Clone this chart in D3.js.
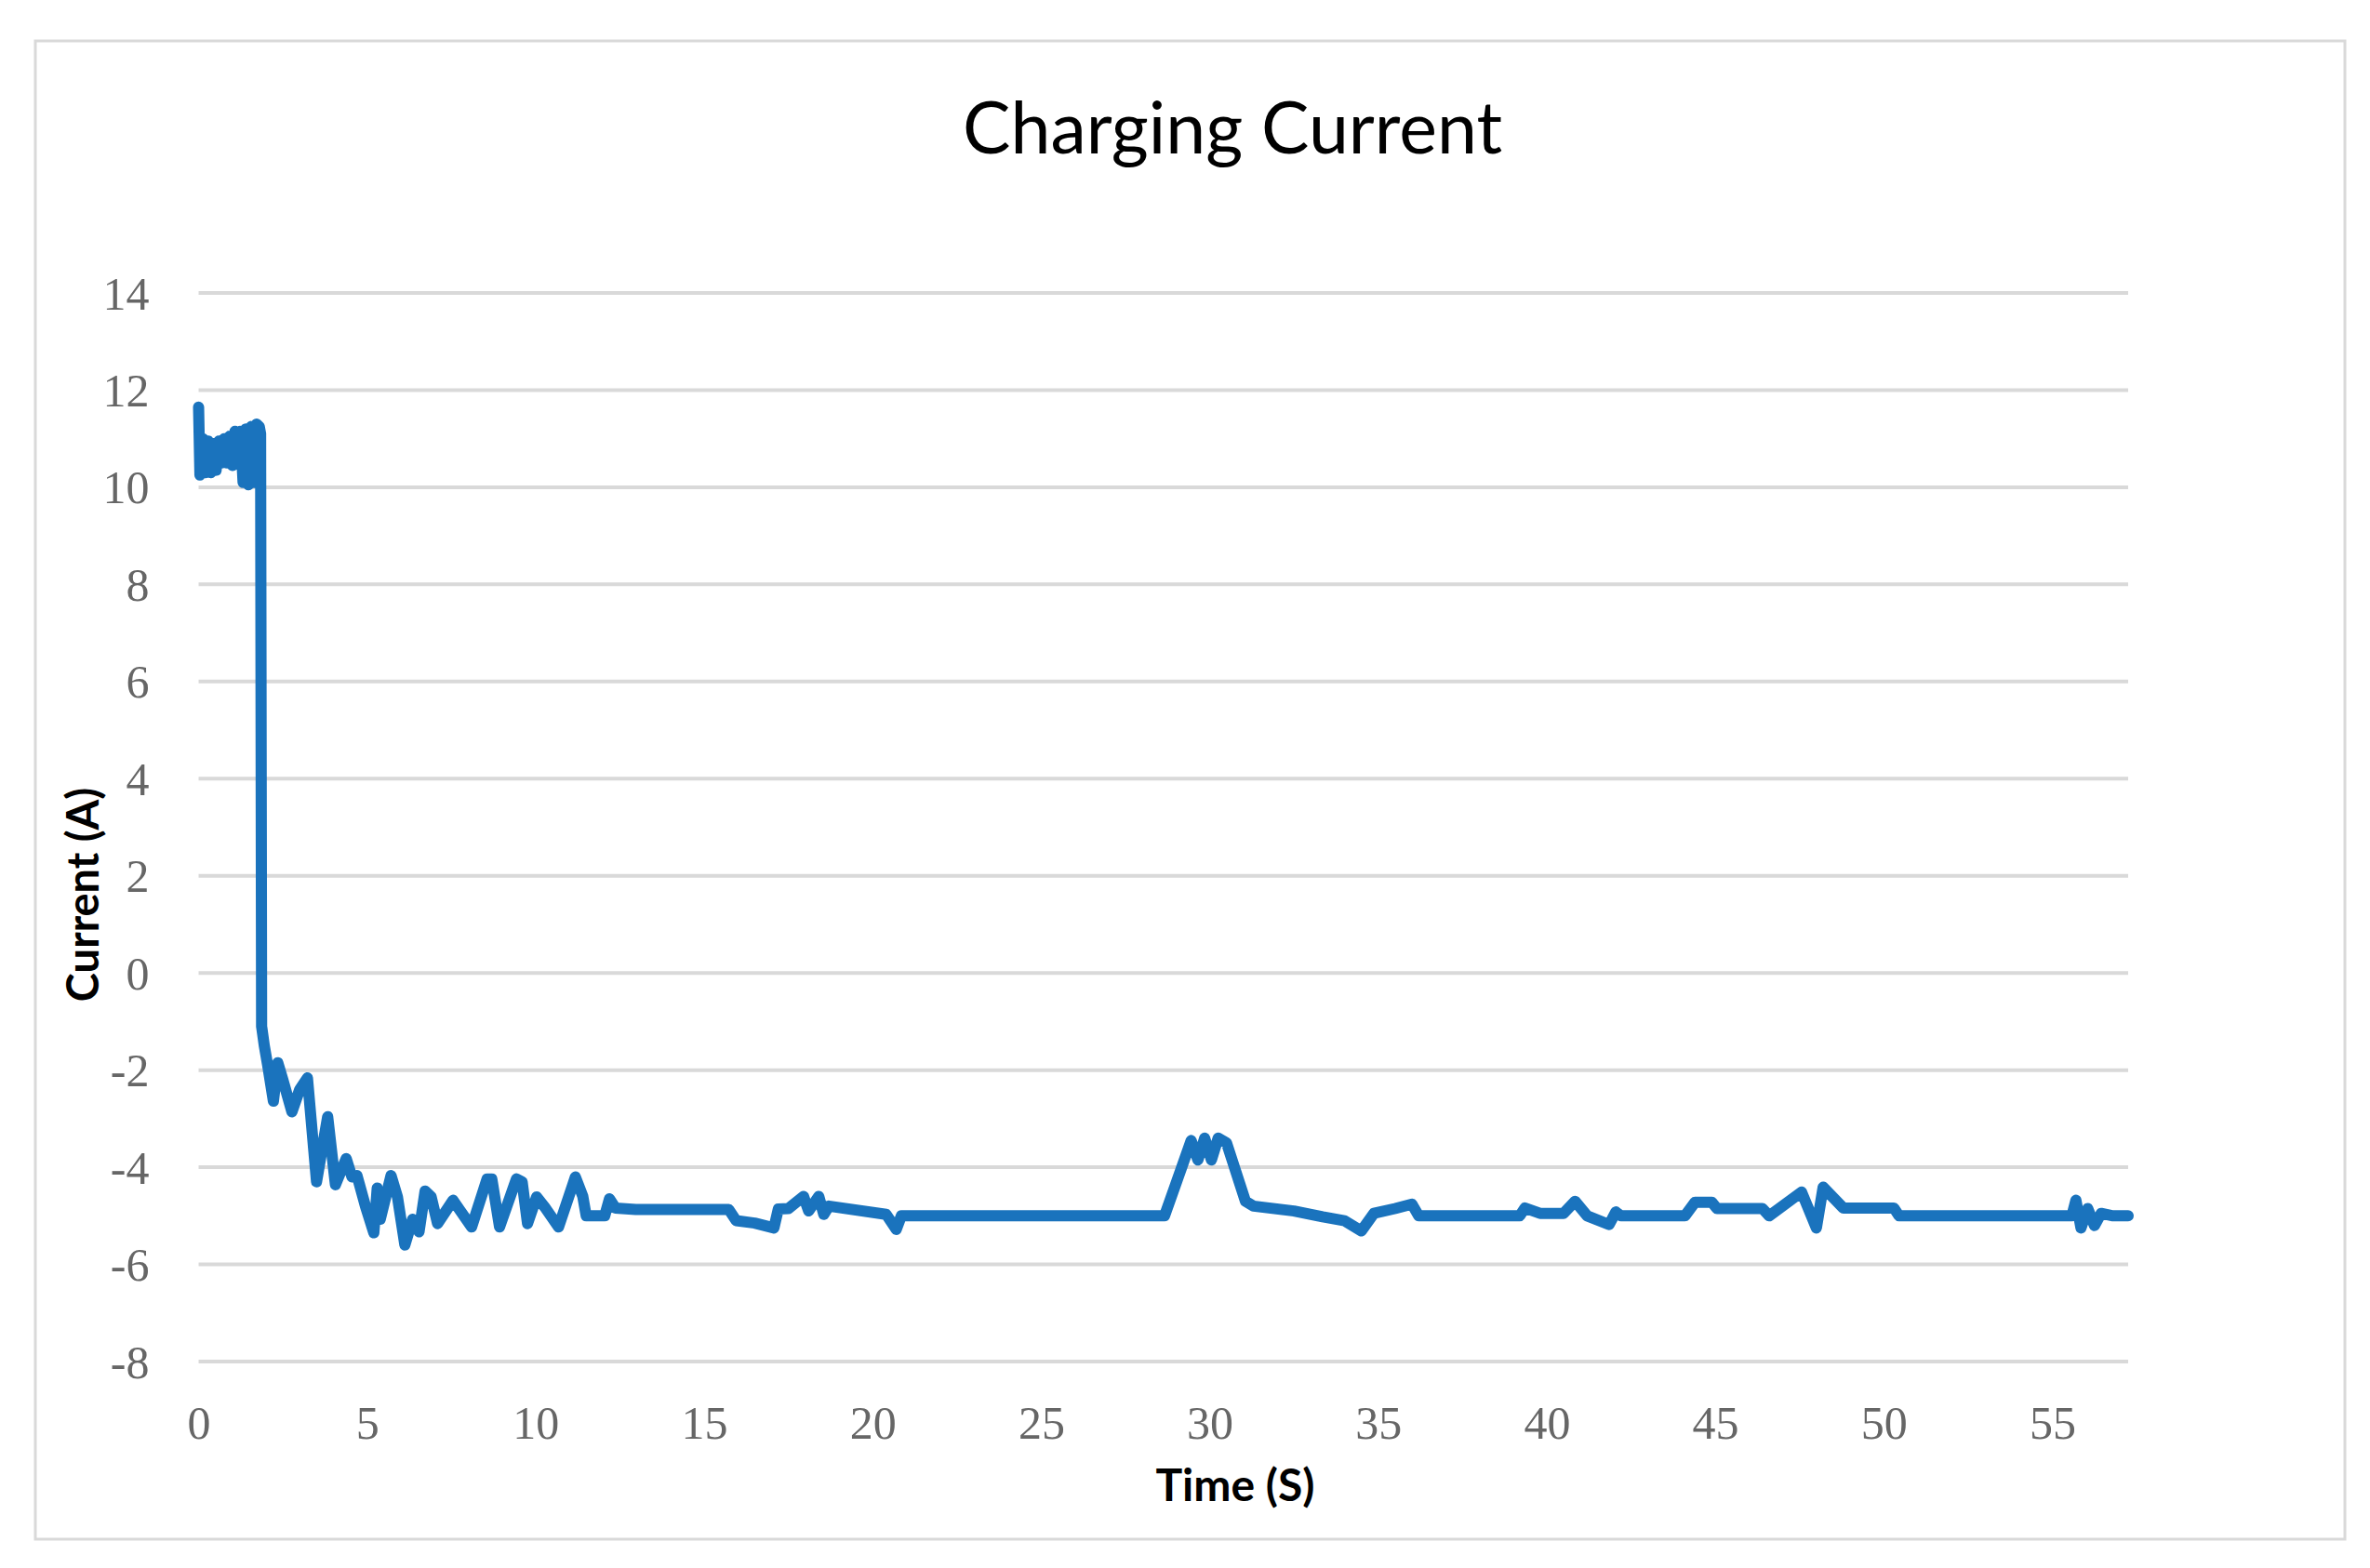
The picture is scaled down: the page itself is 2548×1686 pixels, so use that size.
<!DOCTYPE html>
<html>
<head>
<meta charset="utf-8">
<script src="https://cdn.jsdelivr.net/npm/d3@7"></script>
<style>
  html, body { margin: 0; padding: 0; background: #fff; }
</style>
</head>
<body>
<div id="chart"></div>
<script>
// Data
const timeS = [
  0.00, 0.04, 0.12, 0.20, 0.28, 0.36, 0.44, 0.52, 0.60, 0.68, 0.76, 0.84, 0.92, 1.00,
  1.08, 1.16, 1.24, 1.32, 1.40, 1.48, 1.56, 1.64, 1.72, 1.80, 1.84, 1.87, 1.95,
  2.05, 2.22, 2.35, 2.50, 2.77, 3.00, 3.23, 3.50, 3.83, 4.06, 4.38, 4.55, 4.70, 4.95,
  5.20, 5.30, 5.39, 5.71, 5.90, 6.12, 6.35, 6.54, 6.72, 6.90, 7.09, 7.55, 7.75, 8.10,
  8.56, 8.70, 8.93, 9.43, 9.60, 9.76, 10.03, 10.26, 10.68, 11.18, 11.40, 11.50,
  12.05, 12.19, 12.37, 12.97, 15.73, 15.95, 16.50, 17.07, 17.20, 17.50, 17.95, 18.10,
  18.40, 18.55, 18.70, 20.40, 20.70, 20.85, 28.66, 29.45, 29.65, 29.85, 30.05, 30.25,
  30.50, 31.06, 31.30, 32.50, 33.35, 34.00, 34.50, 34.87, 35.50, 36.00, 36.20, 39.20,
  39.35, 39.80, 40.50, 40.84, 41.20, 41.85, 42.05, 42.20, 44.10, 44.40, 44.90, 45.05,
  46.40, 46.60, 47.56, 48.00, 48.20, 48.80, 50.30, 50.45, 55.58, 55.70, 55.85, 56.05,
  56.25, 56.45, 56.80, 57.25
];
const currentA = [
  11.65, 10.25, 11.00, 10.30, 10.95, 10.30, 10.90, 10.35, 10.95, 10.50, 11.00, 10.50, 11.05, 10.45,
  11.15, 10.60, 11.15, 10.10, 11.20, 10.05, 11.25, 10.10, 11.30, 11.25, 11.10, -1.10, -1.50,
  -1.90, -2.64, -1.85, -2.20, -2.86, -2.40, -2.16, -4.30, -2.96, -4.36, -3.82, -4.20, -4.17, -4.80,
  -5.35, -4.43, -5.07, -4.17, -4.61, -5.60, -5.07, -5.33, -4.49, -4.61, -5.16, -4.68, -4.88, -5.23,
  -4.24, -4.24, -5.23, -4.24, -4.30, -5.16, -4.61, -4.81, -5.23, -4.20, -4.60, -5.00,
  -5.00, -4.65, -4.84, -4.87, -4.87, -5.10, -5.15, -5.25, -4.86, -4.85, -4.60, -4.90,
  -4.60, -4.97, -4.80, -4.97, -5.28, -5.00, -5.00, -3.45, -3.85, -3.40, -3.85, -3.40,
  -3.50, -4.70, -4.80, -4.90, -5.02, -5.10, -5.31, -4.95, -4.85, -4.76, -5.00, -5.00,
  -4.84, -4.95, -4.95, -4.70, -5.00, -5.18, -4.92, -5.00, -5.00, -4.72, -4.72, -4.85,
  -4.85, -5.00, -4.51, -5.25, -4.41, -4.84, -4.84, -5.00, -5.00, -4.68, -5.25, -4.85,
  -5.20, -4.95, -5.00, -5.00
];
const xTicks = [0, 5, 10, 15, 20, 25, 30, 35, 40, 45, 50, 55];
const yTicks = [-8, -6, -4, -2, 0, 2, 4, 6, 8, 10, 12, 14];

const width = 2548;
const height = 1686;

const svg = d3.select("#chart")
  .append("svg")
  .attr("width", width)
  .attr("height", height);

// chart area frame
svg.append("rect")
  .attr("x", 38).attr("y", 44)
  .attr("width", 2483).attr("height", 1611)
  .attr("fill", "#fff")
  .attr("stroke", "#d9d9d9")
  .attr("stroke-width", 3);

const x = d3.scaleLinear().domain([0, 57.25]).range([213.5, 2288]);
const y = d3.scaleLinear().domain([-8, 14]).range([1464, 315]);

// gridlines
svg.append("g")
  .selectAll("line")
  .data(yTicks)
  .enter().append("line")
  .attr("x1", x.range()[0])
  .attr("x2", x.range()[1])
  .attr("y1", d => y(d))
  .attr("y2", d => y(d))
  .attr("stroke", "#d9d9d9")
  .attr("stroke-width", 4);

// y axis (labels only)
const yAxis = svg.append("g")
  .attr("transform", `translate(${x.range()[0]},0)`)
  .call(d3.axisLeft(y).tickValues(yTicks).tickSize(0).tickPadding(53).tickFormat(d => String(d)));
yAxis.select(".domain").remove();
yAxis.selectAll("text")
  .attr("font-family", "'Liberation Serif', 'Times New Roman', serif")
  .attr("font-size", 50)
  .attr("fill", "#666")
  .attr("dy", "0.34em");

// x axis (labels only)
const xAxis = svg.append("g")
  .attr("transform", `translate(0,${y.range()[0]})`)
  .call(d3.axisBottom(x).tickValues(xTicks).tickSize(0).tickPadding(0).tickFormat(d => String(d)));
xAxis.select(".domain").remove();
xAxis.selectAll("text")
  .attr("font-family", "'Liberation Serif', 'Times New Roman', serif")
  .attr("font-size", 50)
  .attr("fill", "#666")
  .attr("dy", null)
  .attr("y", 83);

// the current trace
const points = timeS.map((t, i) => ({ t: t, v: currentA[i] }));
const line = d3.line()
  .x(d => x(d.t))
  .y(d => y(d.v));

svg.append("path")
  .datum(points)
  .attr("d", line)
  .attr("fill", "none")
  .attr("stroke", "#1a73bd")
  .attr("stroke-width", 12)
  .attr("stroke-linejoin", "round")
  .attr("stroke-linecap", "round");

// titles
svg.append("text")
  .attr("x", 1325)
  .attr("y", 165)
  .attr("text-anchor", "middle")
  .attr("font-family", "Lato, 'Open Sans', sans-serif")
  .attr("font-size", 77)
  .attr("fill", "#000")
  .text("Charging Current");

svg.append("text")
  .attr("x", 1328)
  .attr("y", 1614)
  .attr("text-anchor", "middle")
  .attr("font-family", "Lato, 'Open Sans', sans-serif")
  .attr("font-weight", "bold")
  .attr("font-size", 48)
  .attr("fill", "#000")
  .text("Time (S)");

svg.append("text")
  .attr("transform", "translate(106,962) rotate(-90)")
  .attr("text-anchor", "middle")
  .attr("font-family", "Lato, 'Open Sans', sans-serif")
  .attr("font-weight", "bold")
  .attr("font-size", 47)
  .attr("fill", "#000")
  .text("Current (A)");
</script>
</body>
</html>
